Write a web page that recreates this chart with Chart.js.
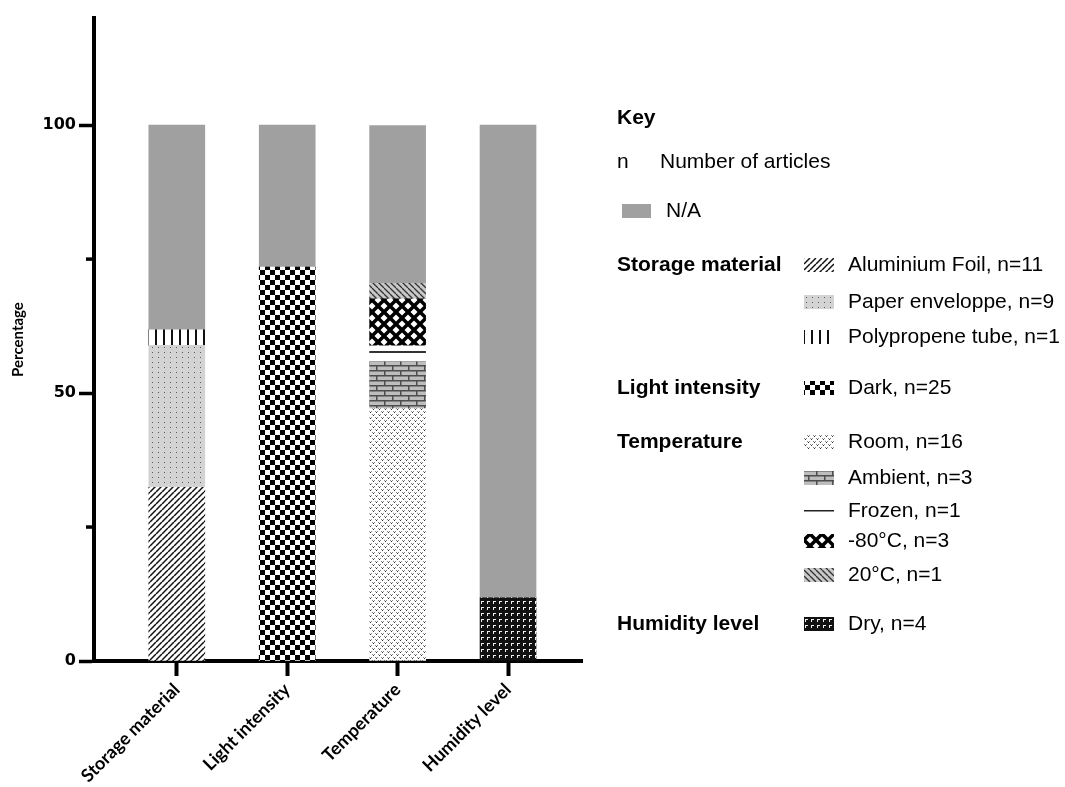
<!DOCTYPE html>
<html>
<head>
<meta charset="utf-8">
<script src="https://cdn.jsdelivr.net/npm/chart.js@4.4.1/dist/chart.umd.min.js"></script>
<style>
    html, body { margin: 0; padding: 0; background: #fff; }
    #contenedor { width: 1065px; height: 787px; position: relative; }
</style>
</head>
<body>
<div id="contenedor"><canvas id="grafica"></canvas></div>
<script>
// categorias del eje x
const categorias = ['Storage material', 'Light intensity', 'Temperature', 'Humidity level'];

// porcentajes de articulos (n total = 34), de abajo hacia arriba
const aluminio   = [32.4, null, null, null];
const papel      = [26.5, null, null, null];
const tubo       = [2.9, null, null, null];
const oscuro     = [null, 73.5, null, null];
const ambiente   = [null, null, 47.1, null];
const ambient    = [null, null, 8.8, null];
const congelado  = [null, null, 2.9, null];
const menos80    = [null, null, 8.8, null];
const veinte     = [null, null, 2.9, null];
const seco       = [null, null, null, 11.8];
const noDisp     = [38.2, 26.5, 29.4, 88.2];

const ticksY = [0, 25, 50, 75, 100];
const etiquetasY = [0, 50, 100];

// textos de la leyenda
const gruposLeyenda = ['Storage material', 'Light intensity', 'Temperature', 'Humidity level'];
const etiquetasAlmacen = ['Aluminium Foil, n=11', 'Paper enveloppe, n=9', 'Polypropene tube, n=1'];
const etiquetasLuz = ['Dark, n=25'];
const etiquetasTemp = ['Room, n=16', 'Ambient, n=3', 'Frozen, n=1', '-80\u00B0C, n=3', '20\u00B0C, n=1'];
const etiquetasHumedad = ['Dry, n=4'];

const fuenteLeyenda = '"Liberation Sans", Arial, sans-serif';

function crearPatron(w, h, dibujar) {
    const c = document.createElement('canvas');
    c.width = w;
    c.height = h;
    const g = c.getContext('2d');
    dibujar(g, w, h);
    return g.createPattern(c, 'repeat');
}

const patrones = {
    aluminio: crearPatron(6, 6, (g, w, h) => {
        g.fillStyle = '#fff'; g.fillRect(0, 0, w, h);
        g.strokeStyle = '#111'; g.lineWidth = 1.5;
        [-6, 0, 6].forEach(dx => { g.beginPath(); g.moveTo(dx, 6); g.lineTo(dx + 6, 0); g.stroke(); });
    }),
    papel: crearPatron(6, 5, (g, w, h) => {
        g.fillStyle = '#d3d3d3'; g.fillRect(0, 0, w, h);
        g.fillStyle = '#5a5a5a'; g.fillRect(2, 2, 1, 1);
    }),
    tubo: crearPatron(8, 4, (g, w, h) => {
        g.fillStyle = '#fff'; g.fillRect(0, 0, w, h);
        g.fillStyle = '#111'; g.fillRect(3, 0, 2, h);
    }),
    oscuro: crearPatron(10, 10, (g, w, h) => {
        g.fillStyle = '#fff'; g.fillRect(0, 0, w, h);
        g.fillStyle = '#000'; g.fillRect(0, 0, 5, 5); g.fillRect(5, 5, 5, 5);
    }),
    ambiente: crearPatron(6, 6, (g, w, h) => {
        g.fillStyle = '#fff'; g.fillRect(0, 0, w, h);
        [[0, 0], [3, 3]].forEach(([x, y]) => {
            g.fillStyle = '#8a8a8a';
            g.fillRect(x, y, 1, 1); g.fillRect(x + 2, y, 1, 1);
            g.fillStyle = '#333';
            g.fillRect(x + 1, y + 1, 1, 1);
        });
    }),
    ambient: crearPatron(16, 10, (g, w, h) => {
        g.fillStyle = '#bdbdbd'; g.fillRect(0, 0, w, h);
        g.fillStyle = '#4d4d4d';
        g.fillRect(0, 0, w, 1.5); g.fillRect(0, 5, w, 1.5);
        g.fillRect(0, 0, 1.5, 5); g.fillRect(8, 5, 1.5, 5);
    }),
    congelado: crearPatron(4, 14, (g, w, h) => {
        g.fillStyle = '#fff'; g.fillRect(0, 0, w, h);
        g.fillStyle = '#333'; g.fillRect(0, 1, w, 2);
    }),
    menos80: crearPatron(12, 12, (g, w, h) => {
        g.fillStyle = '#fff'; g.fillRect(0, 0, w, h);
        g.strokeStyle = '#000'; g.lineWidth = 3.5;
        [-12, 0, 12].forEach(dx => {
            g.beginPath(); g.moveTo(dx, 0); g.lineTo(dx + 12, 12); g.stroke();
            g.beginPath(); g.moveTo(dx + 12, 0); g.lineTo(dx, 12); g.stroke();
        });
    }),
    veinte: crearPatron(6, 6, (g, w, h) => {
        g.fillStyle = '#c8c8c8'; g.fillRect(0, 0, w, h);
        g.strokeStyle = '#333'; g.lineWidth = 1.3;
        [-6, 0, 6].forEach(dx => { g.beginPath(); g.moveTo(dx, 0); g.lineTo(dx + 6, 6); g.stroke(); });
    }),
    seco: crearPatron(6, 6, (g, w, h) => {
        g.fillStyle = '#111'; g.fillRect(0, 0, w, h);
        g.fillStyle = '#eee'; g.fillRect(1, 1, 3, 1); g.fillRect(1, 1, 1, 3);
    }),
    noDisp: '#a0a0a0'
};

const series = [
    { label: etiquetasAlmacen[0], valores: aluminio, patron: 'aluminio' },
    { label: etiquetasAlmacen[1], valores: papel, patron: 'papel' },
    { label: etiquetasAlmacen[2], valores: tubo, patron: 'tubo' },
    { label: etiquetasLuz[0], valores: oscuro, patron: 'oscuro' },
    { label: etiquetasTemp[0], valores: ambiente, patron: 'ambiente' },
    { label: etiquetasTemp[1], valores: ambient, patron: 'ambient' },
    { label: etiquetasTemp[2], valores: congelado, patron: 'congelado' },
    { label: etiquetasTemp[3], valores: menos80, patron: 'menos80' },
    { label: etiquetasTemp[4], valores: veinte, patron: 'veinte' },
    { label: etiquetasHumedad[0], valores: seco, patron: 'seco' },
    { label: 'N/A', valores: noDisp, patron: 'noDisp' }
];

// leyenda dibujada a mano a la derecha
const pluginLeyenda = {
    id: 'leyenda',
    afterDraw(chart) {
        const ctx = chart.ctx;
        ctx.save();
        ctx.textBaseline = 'middle';
        ctx.fillStyle = '#000';
        ctx.font = 'bold 21px ' + fuenteLeyenda;
        ctx.fillText('Key', 617, 118);
        ctx.font = '21px ' + fuenteLeyenda;
        ctx.fillText('n', 617, 162);
        ctx.fillText('Number of articles', 660, 162);
        ctx.fillStyle = patrones.noDisp;
        ctx.fillRect(622, 204, 29, 14);
        ctx.fillStyle = '#000';
        ctx.fillText('N/A', 666, 211);

        const filas = [
            { grupo: gruposLeyenda[0], textos: etiquetasAlmacen, claves: ['aluminio', 'papel', 'tubo'], ys: [265, 302, 337] },
            { grupo: gruposLeyenda[1], textos: etiquetasLuz, claves: ['oscuro'], ys: [388] },
            { grupo: gruposLeyenda[2], textos: etiquetasTemp, claves: ['ambiente', 'ambient', 'congelado', 'menos80', 'veinte'], ys: [442, 478, 511, 541, 575] },
            { grupo: gruposLeyenda[3], textos: etiquetasHumedad, claves: ['seco'], ys: [624] }
        ];
        filas.forEach(f => {
            ctx.fillStyle = '#000';
            ctx.font = 'bold 21px ' + fuenteLeyenda;
            ctx.fillText(f.grupo, 617, f.ys[0]);
            ctx.font = '21px ' + fuenteLeyenda;
            f.textos.forEach((t, i) => {
                const y = f.ys[i];
                if (f.claves[i] === 'congelado') {
                    ctx.fillStyle = '#222';
                    ctx.fillRect(804, y - 1, 30, 1.5);
                } else {
                    ctx.fillStyle = patrones[f.claves[i]];
                    ctx.fillRect(804, y - 7, 30, 14);
                }
                ctx.fillStyle = '#000';
                ctx.fillText(t, 848, y);
            });
        });

        // ticks menores del eje y
        const escalaY = chart.scales.y;
        ctx.strokeStyle = '#000';
        ctx.lineWidth = 3.5;
        ticksY.filter(v => !etiquetasY.includes(v)).forEach(v => {
            const py = escalaY.getPixelForValue(v);
            ctx.beginPath();
            ctx.moveTo(chart.chartArea.left - 8, py);
            ctx.lineTo(chart.chartArea.left, py);
            ctx.stroke();
        });
        ctx.restore();
    }
};

const ctx = document.getElementById('grafica').getContext('2d');
window.graficaArticulos = new Chart(ctx, {
    type: 'bar',
    data: {
        datasets: series.map(s => ({
            label: s.label,
            data: s.valores.map((v, i) => ({ x: i + 1, y: v })).filter(p => p.y !== null),
            backgroundColor: patrones[s.patron],
            borderWidth: 0,
            barThickness: 56
        }))
    },
    options: {
        responsive: true,
        maintainAspectRatio: false,
        animation: false,
        layout: { padding: { top: 18, right: 483, left: 0, bottom: 0 } },
        plugins: {
            legend: { display: false },
            tooltip: { enabled: false }
        },
        scales: {
            x: {
                type: 'linear',
                stacked: true,
                min: 0.25,
                max: 4.67,
                offset: false,
                afterBuildTicks: s => { s.ticks = categorias.map((c, i) => ({ value: i + 1 })); },
                afterFit: s => { s.height = 126; },
                border: { display: true, color: '#000', width: 4 },
                grid: { drawOnChartArea: false, offset: false, color: '#000', tickColor: '#000', tickLength: 15, tickWidth: 4 },
                ticks: {
                    autoSkip: false,
                    minRotation: 45,
                    maxRotation: 45,
                    padding: 3,
                    color: '#000',
                    font: { family: 'Lato', weight: 'bold', size: 18 },
                    callback: v => categorias[v - 1]
                }
            },
            y: {
                stacked: true,
                min: 0,
                max: 120,
                afterBuildTicks: s => { s.ticks = ticksY.map(v => ({ value: v })); },
                afterFit: s => { s.width = 94; },
                border: { display: true, color: '#000', width: 4 },
                grid: {
                    drawOnChartArea: false,
                    color: '#000',
                    tickLength: 15,
                    tickWidth: 3.5,
                    tickColor: c => (c.tick && etiquetasY.includes(c.tick.value)) ? '#000' : 'rgba(0,0,0,0)'
                },
                ticks: {
                    padding: 3,
                    color: '#000',
                    font: { family: 'DejaVu Sans', weight: 'bold', size: 16 },
                    callback: v => etiquetasY.includes(v) ? String(v) : ''
                },
                title: {
                    display: true,
                    text: 'Percentage',
                    color: '#000',
                    font: { family: 'Lato', weight: 'bold', size: 15 },
                    padding: { top: 9, bottom: 0 }
                }
            }
        }
    },
    plugins: [pluginLeyenda]
});
</script>
</body>
</html>
